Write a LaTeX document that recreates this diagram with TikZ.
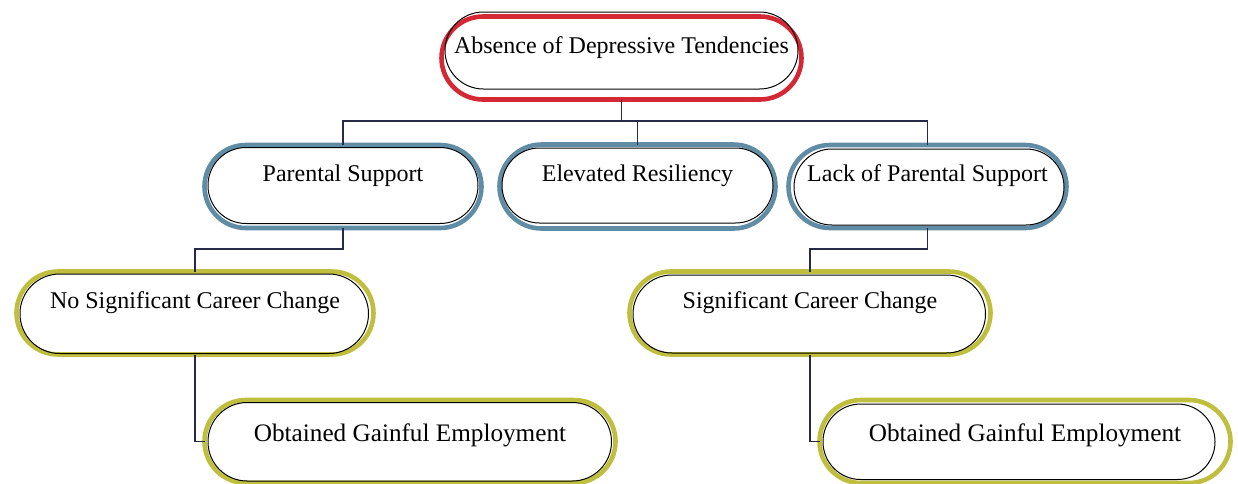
\documentclass[tikz,border=0pt]{standalone}
\usepackage{fontspec}
\setmainfont{Liberation Serif}
\usetikzlibrary{calc, shapes.misc}
\definecolor{pillred}{RGB}{212,40,52}
\definecolor{pillblue}{RGB}{96,140,166}
\definecolor{pillolive}{RGB}{192,190,62}
\definecolor{linknavy}{RGB}{40,40,72}
\tikzset{
    pill/.style={
        rounded rectangle, draw=#1, line width=2.3pt, fill=white,
        outer sep=0pt, inner sep=2pt, minimum height=41.5pt,
        text height=8.5pt, text depth=13.5pt,
        font=\fontsize{12}{14}\selectfont
    },
    pill/.default={pillblue}
}
\tikzset{
    inpill/.style={draw=black, line width=0.5pt},
    link/.style={draw=linknavy, line width=0.75pt}
}

\begin{document}
\begin{tikzpicture}[x=0.5pt, y=0.5pt]
    \useasboundingbox (0,0) rectangle (1238,-483);
    \coordinate (bus) at (0,-121);
    % top
    \node[pill=pillred, minimum width=184pt] (top) at (621.5,-58) {Absence of Depressive Tendencies};
    % second row
    \node[pill=pillblue, minimum width=142.5pt] (ps) at (343,-186.5) {Parental Support};
    \node[pill=pillblue, minimum width=142pt, minimum height=42pt] (er) at (637.5,-186.5) {Elevated Resiliency};
    \node[pill=pillblue, minimum width=143pt] (lps) at (927.5,-186.5) {Lack of Parental Support};
    % third row
    \node[pill=pillolive, minimum width=182.5pt] (nscc) at (195,-313) {No Significant Career Change};
    \node[pill=pillolive, minimum width=184.5pt] (scc) at (810,-313) {Significant Career Change};
    % last row
    \node[pill=pillolive, minimum width=209.5pt, text depth=8.5pt, font=\fontsize{12.6}{14}\selectfont] (oge1) at (410,-441.5) {Obtained Gainful Employment};
    \node[pill=pillolive, minimum width=209.5pt, text depth=8.5pt, font=\fontsize{12.6}{14}\selectfont] (oge2) at (1025,-441.5) {Obtained Gainful Employment};
    % thin black pills inside
    \foreach \nd/\il/\ir/\it/\ib in {top/3.5/3.5/-4.5/10.5, ps/3.5/3.5/2.5/4.5, er/2.5/2.5/3.5/5.5,
        lps/5.5/2.5/4/3, nscc/3.5/5/2.5/1, scc/3.5/5/3.5/1.5,
        oge1/3.5/4/2.5/2, oge2/3.5/15.5/4/3.5}
        \draw[inpill] let \p1=(\nd.west), \p2=(\nd.south), \p3=(\nd.east), \p4=(\nd.north),
            \n1={0.499*(\y4-\y2-(\it+\ib)*0.5pt)} in [rounded corners=\n1]
            ($(\x1,\y2)+(\il,\ib)$) rectangle ($(\x3,\y4)+(-\ir,-\it)$);
    % connectors
    \draw[link] (top.south) -- (top.south |- bus);
    \draw[link] (ps.north) -- (ps.north |- bus) -| (lps.north);
    \draw[link] (er.north) -- (er.north |- bus);
    \draw[link] (ps.south) -- ++(0,-21) -| (nscc.north);
    \draw[link] (lps.south) -- ++(0,-21) -| (scc.north);
    \draw[link] (nscc.south) |- (oge1.west);
    \draw[link] (scc.south) |- (oge2.west);
\end{tikzpicture}
\end{document}
